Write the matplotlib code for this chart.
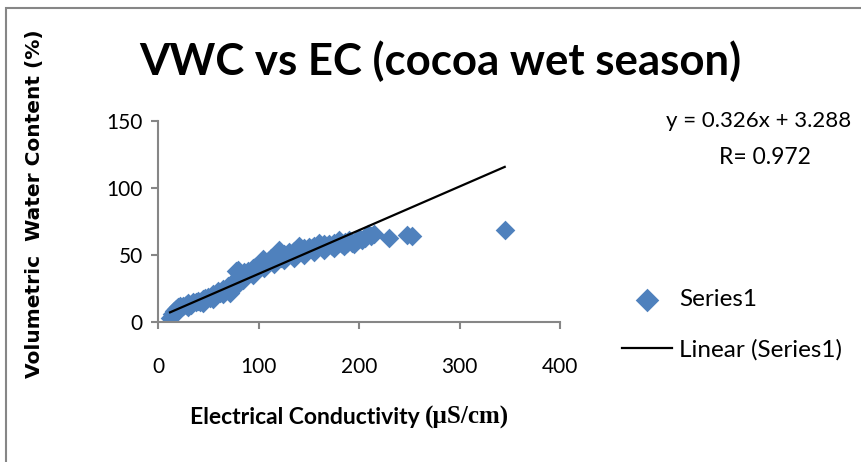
import matplotlib
matplotlib.use('Agg')
import matplotlib.pyplot as plt
from matplotlib.patches import Rectangle
import numpy as np

# values
ec = [12, 14, 16, 18, 20, 22, 25, 28, 30, 33, 35, 38, 40, 42, 45, 47, 50, 52, 55, 57,
      60, 62, 65, 67, 70, 72, 74, 76, 78, 80, 82, 84, 86, 88, 90, 92, 95, 97, 100, 102,
      104, 106, 108, 110, 112, 115, 118, 120, 122, 125, 128, 130, 133, 135, 138, 140, 143, 145, 148, 150,
      153, 155, 158, 160, 163, 165, 168, 170, 173, 175, 178, 180, 183, 186, 188, 190, 193, 196, 198, 200,
      203, 206, 209, 212, 215, 230, 248, 253, 345,
      20, 30, 45, 55, 65, 75, 85, 95, 105, 115, 125, 135, 145, 155, 165, 175, 185, 195,
      120, 140, 160, 180, 200]
vwc = [3, 6, 8, 10, 11, 12, 12, 13, 14, 13, 15, 15, 16, 15, 17, 18, 19, 18, 21, 20,
       23, 22, 25, 24, 27, 22, 29, 30, 38, 39, 33, 35, 37, 36, 38, 37, 40, 41, 42, 44,
       47, 43, 45, 46, 48, 47, 49, 50, 48, 51, 50, 52, 51, 53, 52, 54, 53, 55, 54, 56,
       55, 57, 56, 57, 56, 58, 57, 58, 57, 59, 58, 59, 58, 60, 59, 61, 59, 60, 61, 62,
       61, 63, 66, 64, 66, 63, 65, 64, 69,
       8, 11, 14, 17, 21, 25, 31, 35, 40, 43, 46, 48, 50, 52, 54, 55, 57, 58,
       54, 57, 59, 61, 63]

slope = 0.326
intercept = 3.288
r_value = 0.972

x_ticks = [0, 100, 200, 300, 400]
y_ticks = [0, 50, 100, 150]

font = 'Lato'
blue = '#4F81BD'
grey = '#868686'

fig = plt.figure(figsize=(8.61, 4.62), dpi=100)
ax = fig.add_axes([158 / 861, 1 - 322 / 462, 402 / 861, 201 / 462])

ax.scatter(ec, vwc, marker='D', s=100, color=blue, linewidths=0, label='Series1', zorder=2)
x_line = np.array([min(ec), max(ec)])
ax.plot(x_line, slope * x_line + intercept, color='black', lw=1.6, label='Linear (Series1)', zorder=3)

ax.set_xlim(0, 400)
ax.set_ylim(0, 150)
ax.set_xticks(x_ticks)
ax.set_yticks(y_ticks)
for s in ['top', 'right']:
    ax.spines[s].set_visible(False)
for s in ['left', 'bottom']:
    ax.spines[s].set_color(grey)
    ax.spines[s].set_linewidth(1.5)
ax.tick_params(axis='both', direction='out', length=5, width=1.5, color=grey, labelsize=15)
ax.tick_params(axis='x', pad=20)
ax.tick_params(axis='y', pad=6)
for lab in ax.get_xticklabels() + ax.get_yticklabels():
    lab.set_fontfamily(font)

fig.text(440 / 861, 1 - 61 / 462, 'VWC vs EC (cocoa wet season)', ha='center', va='center',
         fontsize=31.5, fontweight='bold', fontfamily=font)

fig.text(35 / 861, 1 - 204 / 462, 'Volumetric  Water Content (%)', rotation=90, ha='center', va='center',
         fontsize=14.5, fontweight='bold', fontfamily='DejaVu Sans')

t1 = fig.text(190 / 861, 1 - 417 / 462, 'Electrical Conductivity ', ha='left', va='center',
              fontsize=16.5, fontweight='bold', fontfamily=font)
fig.canvas.draw()
bb = t1.get_window_extent()
fig.text(bb.x1 / 861, 1 - 417 / 462, '(\u00b5S/cm)', ha='left', va='center',
         fontsize=18, fontweight='bold', fontfamily='Liberation Serif')

fig.text(666 / 861, 1 - 121 / 462, 'y = %.3fx + %.3f' % (slope, intercept), ha='left', va='center',
         fontsize=16, fontfamily=font)
fig.text(765 / 861, 1 - 157 / 462, 'R= %.3f' % r_value, ha='center', va='center',
         fontsize=16.5, fontfamily=font)

leg = ax.legend(loc='upper left', bbox_to_anchor=(622 / 861, 1 - 289 / 462), bbox_transform=fig.transFigure,
                frameon=False, scatterpoints=1, markerscale=1.2, handlelength=2.06, handletextpad=0.29,
                labelspacing=1.2, borderpad=0, borderaxespad=0, prop={'family': font, 'size': 17.5})

fig.patches.append(Rectangle((6 / 861, -0.1), 1.2, 1.1 - 8 / 462, transform=fig.transFigure,
                             fill=False, edgecolor=grey, linewidth=1.5))

fig.savefig('out.png', dpi=100)
